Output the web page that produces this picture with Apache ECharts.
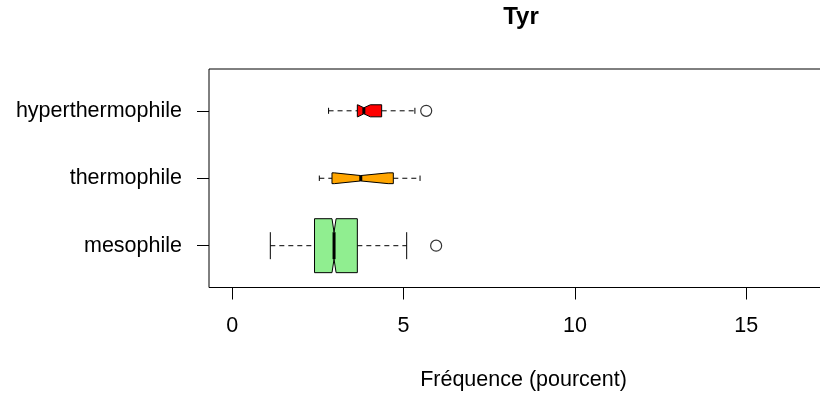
<!DOCTYPE html>
<html>
<head>
<meta charset="utf-8">
<script src="https://cdn.jsdelivr.net/npm/echarts@6/dist/echarts.min.js"></script>
<style>
  html, body { margin: 0; padding: 0; background: #ffffff; }
  #chart { width: 820px; height: 396px; }
</style>
</head>
<body>
<div id="chart"></div>
<script>
// Tyrosine frequency per growth-temperature group (percent)
const groups = ['mesophile', 'thermophile', 'hyperthermophile'];
const lowerWhisker = [1.11, 2.54, 2.81];
const lowerHinge   = [2.40, 2.91, 3.65];
const notchLow     = [2.91, 2.98, 3.66];
const medians      = [2.97, 3.75, 3.84];
const notchHigh    = [3.03, 4.55, 4.03];
const upperHinge   = [3.65, 4.70, 4.36];
const upperWhisker = [5.09, 5.48, 5.33];
const groupSize    = [400, 16, 20];
const outliers = [
  { group: 'mesophile', value: 5.95 },
  { group: 'hyperthermophile', value: 5.66 }
];
const xTicks = [0, 5, 10, 15];
const groupFill = ['#90EE90', '#FFA500', '#FF0000'];

const FONT = 'Liberation Sans, Arial, Helvetica, sans-serif';
const maxN = Math.max(...groupSize);

// one row per box: [index, lowW, q1, notchLo, median, notchHi, q3, highW, halfWidth]
const boxRows = groups.map((g, i) => [
  i, lowerWhisker[i], lowerHinge[i], notchLow[i], medians[i],
  notchHigh[i], upperHinge[i], upperWhisker[i],
  0.4 * Math.sqrt(groupSize[i] / maxN)
]);

const outlierPoints = outliers.map(o => [o.value, groups.indexOf(o.group) + 1]);

function renderBox(params, api) {
  const i = api.value(0);
  const pos = i + 1;
  const x = v => api.coord([v, pos])[0];
  const cy = api.coord([0, pos])[1];
  const h = Math.abs(api.size([0, api.value(8)])[1]);
  const lw = x(api.value(1)), q1 = x(api.value(2)), cl = x(api.value(3));
  const md = x(api.value(4)), ch = x(api.value(5)), q3 = x(api.value(6));
  const uw = x(api.value(7));
  const stroke = { stroke: '#000', lineWidth: 1 };
  const dashed = { stroke: '#000', lineWidth: 1, lineDash: [5, 4] };
  return {
    type: 'group',
    children: [
      { type: 'line', shape: { x1: lw, y1: cy, x2: q1, y2: cy }, style: dashed },
      { type: 'line', shape: { x1: q3, y1: cy, x2: uw, y2: cy }, style: dashed },
      { type: 'line', shape: { x1: lw, y1: cy - h / 2, x2: lw, y2: cy + h / 2 }, style: stroke },
      { type: 'line', shape: { x1: uw, y1: cy - h / 2, x2: uw, y2: cy + h / 2 }, style: stroke },
      {
        type: 'polygon',
        shape: {
          points: [
            [q1, cy - h], [cl, cy - h], [md, cy - h / 2], [ch, cy - h], [q3, cy - h],
            [q3, cy + h], [ch, cy + h], [md, cy + h / 2], [cl, cy + h], [q1, cy + h]
          ]
        },
        style: { fill: groupFill[i], stroke: '#000', lineWidth: 1 }
      },
      { type: 'line', shape: { x1: md, y1: cy - h / 2, x2: md, y2: cy + h / 2 }, style: { stroke: '#000', lineWidth: 3 } }
    ]
  };
}

const chart = echarts.init(document.getElementById('chart'), null, { renderer: 'canvas' });
chart.setOption({
  backgroundColor: '#ffffff',
  animation: false,
  graphic: [{
    type: 'text', x: 521, y: 17,
    style: { text: 'Tyr', font: 'bold 24px ' + FONT, fill: '#000', textAlign: 'center', textVerticalAlign: 'middle' }
  }],
  grid: {
    left: 209, right: -18, top: 69, bottom: 108.5,
    outerBoundsMode: 'none', containLabel: false,
    show: true, borderColor: '#000', borderWidth: 1, backgroundColor: 'transparent'
  },
  xAxis: {
    type: 'value', min: -0.68, max: 17.68,
    name: 'Fréquence (pourcent)', nameLocation: 'middle', nameGap: 82,
    nameTextStyle: { color: '#000', fontSize: 21.5, fontFamily: FONT },
    axisLine: { show: false, onZero: false },
    splitLine: { show: false },
    axisTick: { show: true, customValues: xTicks, length: 12, lineStyle: { color: '#000', width: 1 } },
    axisLabel: { customValues: xTicks, margin: 28, color: '#000', fontSize: 21.5, fontFamily: FONT }
  },
  yAxis: {
    type: 'value', min: 0.38, max: 3.62,
    axisLine: { show: false, onZero: false },
    splitLine: { show: false },
    axisTick: { show: true, customValues: [1, 2, 3], length: 12, lineStyle: { color: '#000', width: 1 } },
    axisLabel: {
      customValues: [1, 2, 3], margin: 27, color: '#000', fontSize: 21.5, fontFamily: FONT,
      formatter: v => groups[Math.round(v) - 1]
    }
  },
  series: [
    {
      type: 'custom',
      renderItem: renderBox,
      data: boxRows,
      encode: { x: [1, 7], y: 0 },
      clip: false,
      silent: true
    },
    {
      type: 'scatter',
      data: outlierPoints,
      symbol: 'circle',
      symbolSize: 11,
      itemStyle: { color: '#ffffff', borderColor: '#000', borderWidth: 1.2 },
      silent: true
    }
  ]
});
</script>
</body>
</html>
